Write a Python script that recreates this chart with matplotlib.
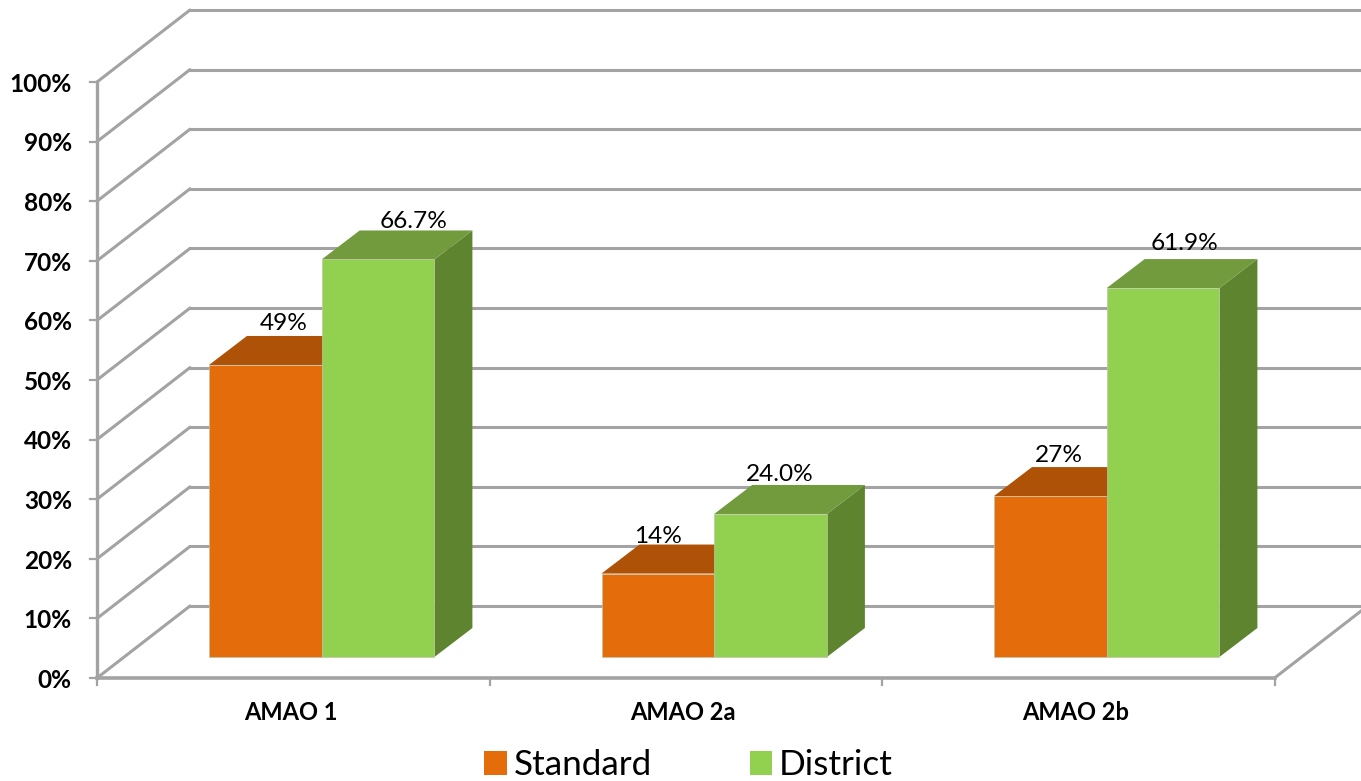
import numpy as np
import matplotlib
matplotlib.use("Agg")
import matplotlib.pyplot as plt
from matplotlib.patches import Polygon, Patch

categories = ["AMAO 1", "AMAO 2a", "AMAO 2b"]
standard = [49, 14, 27]
district = [66.7, 24.0, 61.9]
standard_labels = ["49%", "14%", "27%"]
district_labels = ["66.7%", "24.0%", "61.9%"]
y_ticks = [0, 10, 20, 30, 40, 50, 60, 70, 80, 90, 100]

px_x = 392.5      # pixels per category
px_y = 5.96       # pixels per percent
x0 = 97; y0 = 678

# wall depth, bar depth and bar lift from the floor (data units)
wall_dx = 93/px_x; wall_dy = 72/px_y
bar_dx = 38/px_x; bar_dy = 29/px_y
lift = 21/px_y
bar_l = 112/px_x; bar_w = 112.7/px_x

grid_c = "#a3a3a3"
orange = ["#E46C0A", "#AE5207", "#8A4106"]
green = ["#92D050", "#719B3D", "#5E8430"]

plt.rcParams['font.family'] = ['Lato', 'DejaVu Sans']
fig = plt.figure(figsize=(13.61, 7.81), dpi=100)
ax = fig.add_axes([0, 0, 1, 1])
ax.set_xlim(-x0/px_x, (1361-x0)/px_x)
ax.set_ylim((y0-781)/px_y, y0/px_y)
ax.axis("off")

# walls
for v in y_ticks:
    ax.plot([0, wall_dx], [v, v+wall_dy], color=grid_c, lw=2.2, zorder=1, solid_capstyle="round")
    ax.plot([wall_dx, 4], [v+wall_dy, v+wall_dy], color=grid_c, lw=2.2, zorder=1)
    ax.plot([-7/px_x, 0], [v, v], color=grid_c, lw=1.6, zorder=2)
    ax.text(-25/px_x, v-0.4, "%d%%" % v, ha="right", va="center", fontsize=17.6, fontweight="bold", color="black")
ax.plot([0, 0], [0, 100], color=grid_c, lw=2.4, zorder=2)
ax.plot([0, 3], [0, 0], color=grid_c, lw=2.6, zorder=2)
ax.plot([3, 3+wall_dx], [0, wall_dy], color=grid_c, lw=2.2, zorder=2)
for i in range(4):
    ax.plot([i, i], [0, -7/px_y], color=grid_c, lw=1.6, zorder=2)


def bar3d(x, v, cols, z):
    b = lift; t = lift+v
    ax.add_patch(Polygon([(x+bar_w, b), (x+bar_w+bar_dx, b+bar_dy), (x+bar_w+bar_dx, t+bar_dy), (x+bar_w, t)],
                         fc=cols[2], ec="none", zorder=z))
    ax.add_patch(Polygon([(x, t), (x+bar_dx, t+bar_dy), (x+bar_w+bar_dx, t+bar_dy), (x+bar_w, t)],
                         fc=cols[1], ec="none", zorder=z))
    ax.add_patch(Polygon([(x, b), (x+bar_w, b), (x+bar_w, t), (x, t)],
                         fc=cols[0], ec="#bfc4a8", lw=0.5, zorder=z+0.5))


# label offsets from bar left / back of top, in pixels
std_off = [(75, 12), (56, 8), (65, 12)]
dis_off = [(92, 9), (66, 10), (78, 16)]

for i in range(len(categories)):
    x_s = i+bar_l
    x_d = x_s+bar_w
    bar3d(x_s, standard[i], orange, 3)
    bar3d(x_d, district[i], green, 4)
    ax.text(x_s+std_off[i][0]/px_x, lift+standard[i]+bar_dy+std_off[i][1]/px_y, standard_labels[i],
            ha="center", va="center", fontsize=17.6, color="black", zorder=6)
    ax.text(x_d+dis_off[i][0]/px_x, lift+district[i]+bar_dy+dis_off[i][1]/px_y, district_labels[i],
            ha="center", va="center", fontsize=17.6, color="black", zorder=6)
    ax.text(i+0.493, -35/px_y, categories[i], ha="center", va="center", fontsize=17, fontweight="bold", color="black")

handles = [Patch(fc=orange[0], label="Standard"), Patch(fc=green[0], label="District")]
ax.legend(handles=handles, loc="lower center", bbox_to_anchor=(0.506, -0.041), ncol=2, frameon=False,
          fontsize=25.3, handlelength=0.64, handleheight=0.64, handletextpad=0.2, columnspacing=2.78)

fig.savefig("out.png", dpi=100)
